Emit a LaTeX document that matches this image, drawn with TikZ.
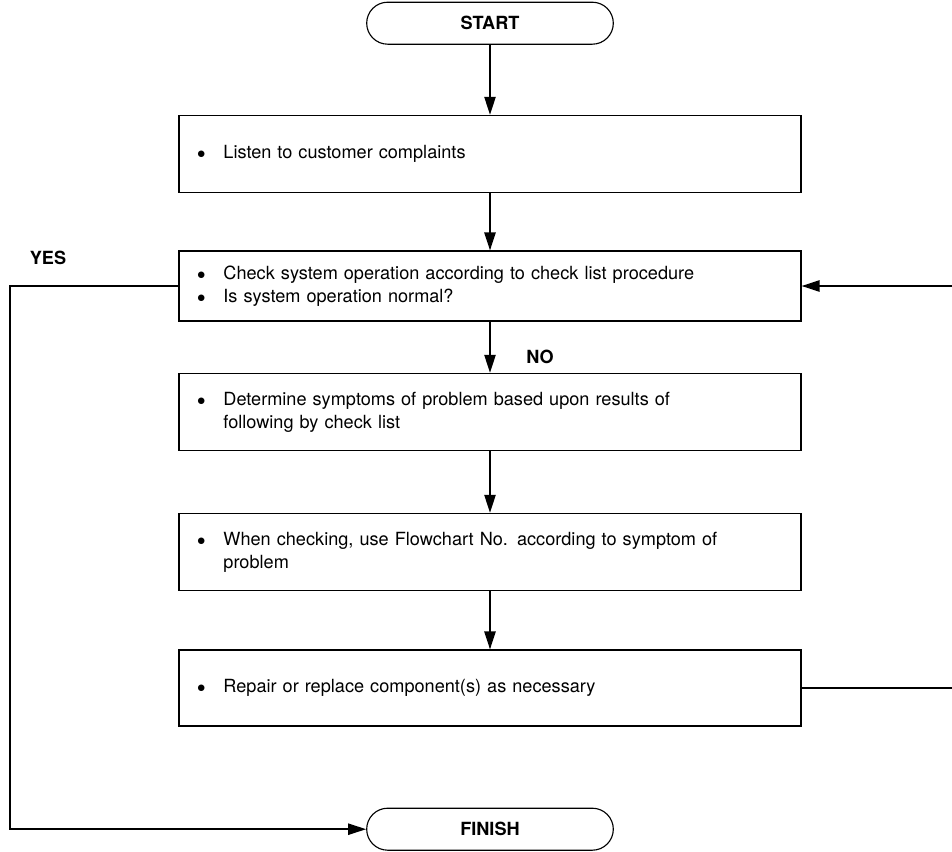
\documentclass[tikz,border=0pt]{standalone}
\usepackage{fontspec}
\setmainfont{TeX Gyre Heros}
\usepackage{tikz}
\usetikzlibrary{shapes.misc,arrows.meta}

\newcommand{\itembul}{$\bullet$\hspace{0.45cm}}

\begin{document}
\begin{tikzpicture}[
    every node/.style={font=\fontsize{12.9}{16.5}\selectfont},
    terminal/.style={draw, line width=0.8pt, rounded rectangle, minimum width=6.4cm, minimum height=1.05cm, font=\fontsize{12.9}{16.5}\selectfont\bfseries},
    stepbox/.style={draw, line width=0.8pt, rectangle, minimum width=15.55cm, minimum height=1.93cm, text width=14.65cm, align=left, inner xsep=0.45cm},
    flow/.style={line width=1.3pt, -{Triangle[length=4.5mm,width=2.8mm]}},
    tag/.style={font=\fontsize{12.9}{16.5}\selectfont\bfseries}]
    \useasboundingbox (0cm, 0cm) rectangle (23.8cm, -21.3cm);

    \node (start) [terminal] at (12.25cm, -0.58cm) {START};
    \node (listen) [stepbox] at (12.25cm, -3.85cm) {\itembul Listen to customer complaints};
    \node (check) [stepbox, minimum height=1.75cm] at (12.25cm, -7.15cm) {\itembul Check system operation according to check list procedure\\\itembul Is system operation normal?};
    \node (determine) [stepbox] at (12.25cm, -10.3cm) {\itembul Determine symptoms of problem based upon results of\\\phantom{\itembul}following by check list};
    \node (flowchart) [stepbox] at (12.25cm, -13.8cm) {\itembul When checking, use Flowchart No. according to symptom of\\\phantom{\itembul}problem};
    \node (repair) [stepbox, minimum height=1.9cm] at (12.25cm, -17.2cm) {\itembul Repair or replace component(s) as necessary};
    \node (finish) [terminal] at (12.25cm, -20.73cm) {FINISH};
    \node (yes) [tag] at (1.2cm, -6.45cm) {YES};
    \node (no) [tag] at (13.5cm, -8.93cm) {NO};
    \coordinate (cl) at (0.25cm, -7.15cm);
    \coordinate (bl) at (0.25cm, -20.73cm);
    \coordinate (ri) at (23.8cm, -7.15cm);
    \coordinate (ro) at (23.8cm, -17.2cm);

    \draw[flow] (start) -- (listen);
    \draw[flow] (listen) -- (check);
    \draw[flow] (check) -- (determine);
    \draw[flow] (determine) -- (flowchart);
    \draw[flow] (flowchart) -- (repair);
    \draw[flow] (check.west) -- (cl) -- (bl) -- (finish.west);
    \draw[flow] (ri) -- (check.east);
    \draw[line width=1.3pt] (repair.east) -- (ro);
\end{tikzpicture}
\end{document}
